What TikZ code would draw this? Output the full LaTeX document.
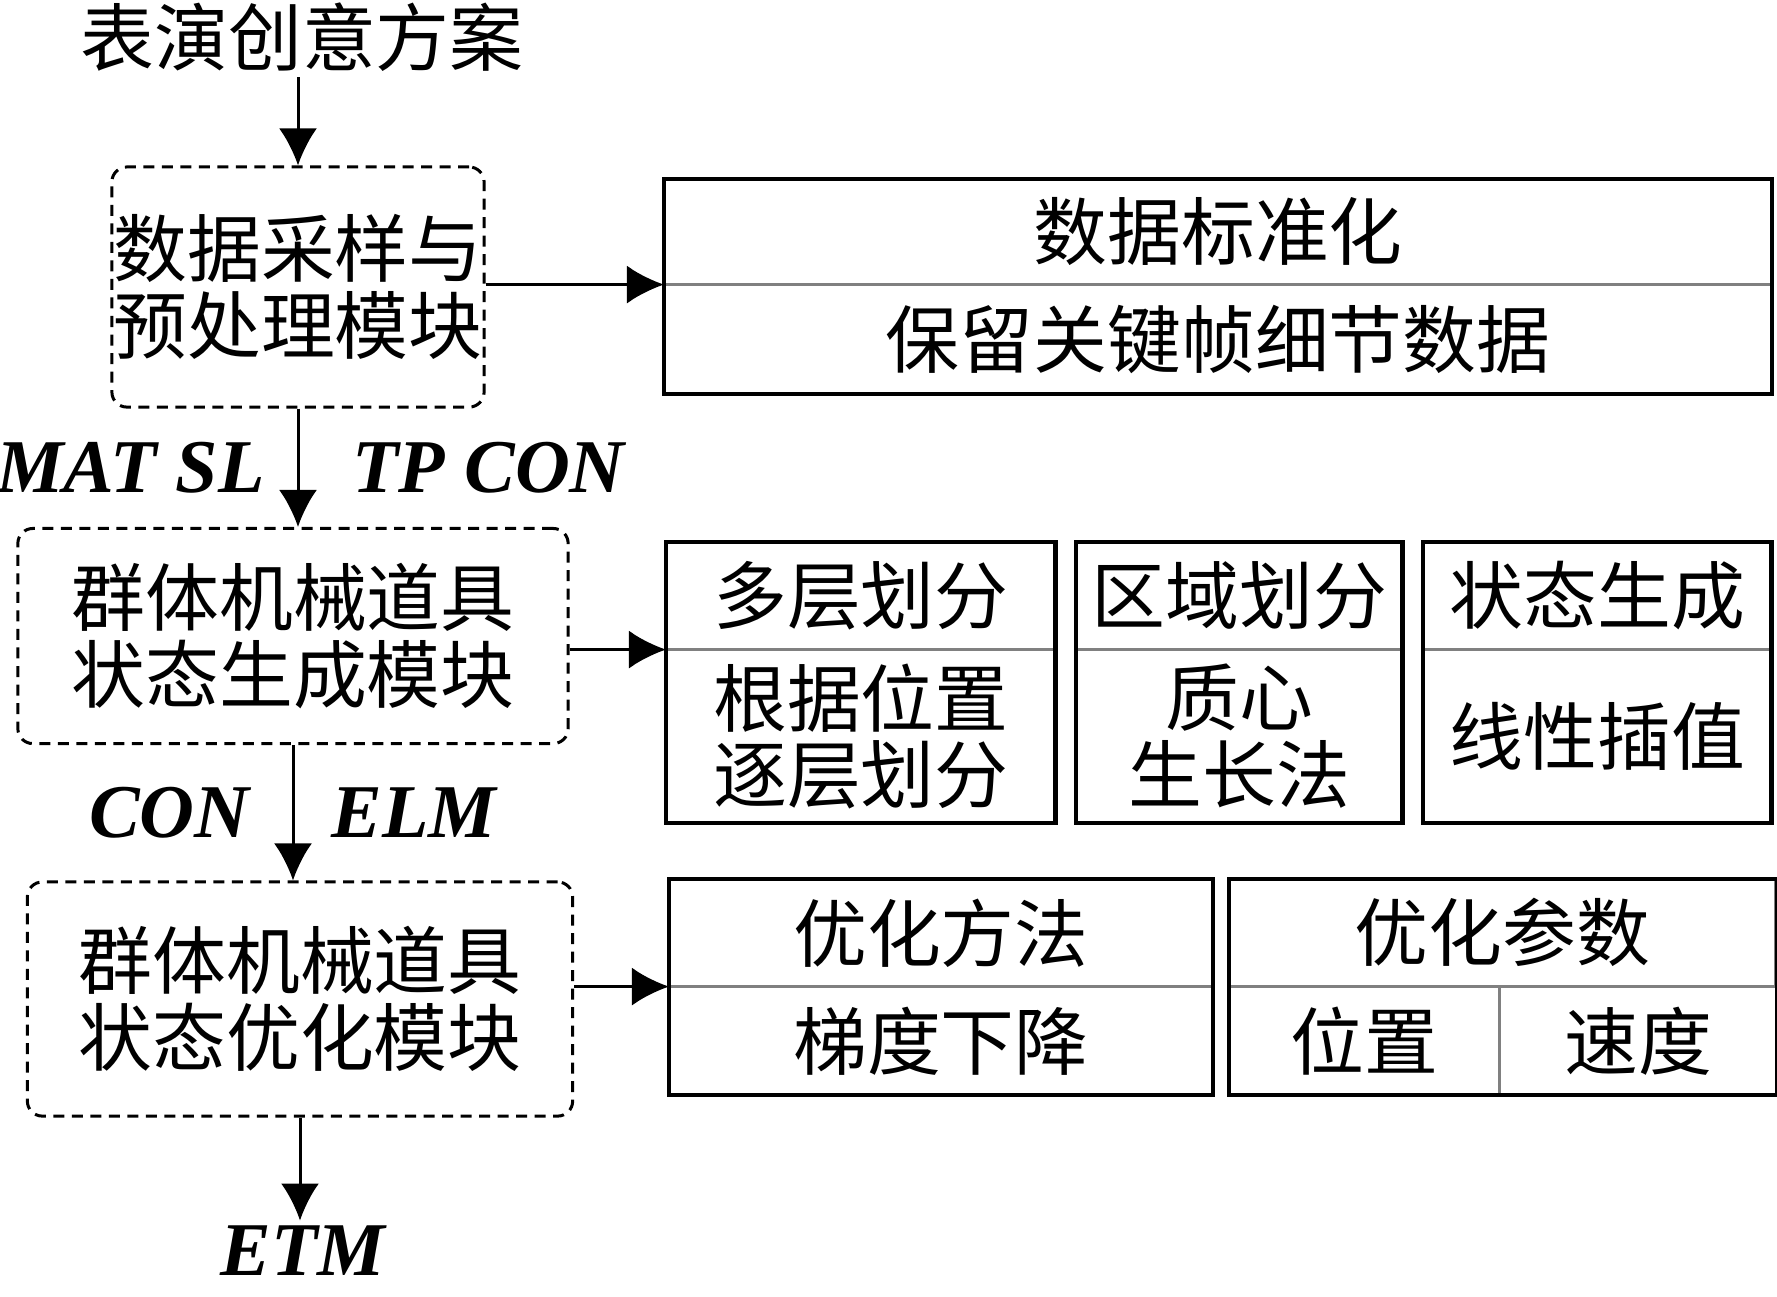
\documentclass[tikz,border=0pt]{standalone}
\usepackage{fontspec}
\setmainfont{Liberation Serif}
\newfontfamily\zhfont{Noto Sans CJK SC}
\usetikzlibrary{arrows.meta,positioning,fit}
\newcommand{\zhtext}{\zhfont\fontsize{21}{21.8}\selectfont}
\newcommand{\lbltext}{\bfseries\itshape\fontsize{21.6}{24}\selectfont}

\begin{document}
\begin{tikzpicture}[x=0.01cm, y=-0.01cm,
    module/.style={draw, dash pattern=on 0.11cm off 0.075cm, line width=0.03cm, rounded corners=0.15cm, align=center, font=\zhtext, inner sep=0},
    cell/.style={draw=gray, line width=0.015cm, anchor=north west, align=center, font=\zhtext, inner sep=0},
    frame/.style={draw, line width=0.045cm, inner sep=0},
    arr/.style={-{Latex[length=0.37cm, width=0.38cm]}, line width=0.03cm},
    lbl/.style={font=\lbltext, inner sep=0}]
  \useasboundingbox (0,0) rectangle (1777,1296);

  % left column
  \node[font=\zhtext, inner sep=0.05cm] (plan) at (302,37) {表演创意方案};
  \node[module, minimum width=3.72cm, minimum height=2.40cm] (m1) at (298,287) {数据采样与\\预处理模块};
  \node[module, minimum width=5.50cm, minimum height=2.15cm] (m2) at (293,636) {群体机械道具\\状态生成模块};
  \node[module, minimum width=5.45cm, minimum height=2.34cm] (m3) at (300,999) {群体机械道具\\状态优化模块};
  \node[lbl, anchor=base, inner sep=0.04cm] (etm) at (303,1275) {ETM};

  % right boxes
  \node[cell, minimum width=11.06cm, minimum height=1.04cm] (s1) at (664,179) {数据标准化};
  \node[cell, minimum width=11.06cm, minimum height=1.08cm] (s2) at (s1.south west) {保留关键帧细节数据};
  \node[frame, fit=(s1)(s2)] (fs) {};

  \node[cell, minimum width=3.88cm, minimum height=1.06cm] (a1) at (666,542) {多层划分};
  \node[cell, minimum width=3.88cm, minimum height=1.72cm] (a2) at (a1.south west) {根据位置\\逐层划分};
  \node[frame, fit=(a1)(a2)] (fa) {};
  \node[cell, minimum width=3.25cm, minimum height=1.06cm] (b1) at (1076,542) {区域划分};
  \node[cell, minimum width=3.25cm, minimum height=1.72cm] (b2) at (b1.south west) {质心\\生长法};
  \node[frame, fit=(b1)(b2)] (fb) {};
  \node[cell, minimum width=3.47cm, minimum height=1.06cm] (c1) at (1423,542) {状态生成};
  \node[cell, minimum width=3.47cm, minimum height=1.72cm] (c2) at (c1.south west) {线性插值};
  \node[frame, fit=(c1)(c2)] (fc) {};

  \node[cell, minimum width=5.42cm, minimum height=1.06cm] (p1) at (669,879) {优化方法};
  \node[cell, minimum width=5.42cm, minimum height=1.07cm] (p2) at (p1.south west) {梯度下降};
  \node[frame, fit=(p1)(p2)] (fp) {};
  \node[cell, minimum width=5.45cm, minimum height=1.06cm] (q1) at (1229,879) {优化参数};
  \node[cell, minimum width=2.69cm, minimum height=1.07cm] (q2) at (q1.south west) {位置};
  \node[cell, minimum width=2.76cm, minimum height=1.07cm] (q3) at (q2.north east) {速度};
  \node[frame, fit=(q1)(q2)(q3)] (fq) {};

  % connectors
  \draw[arr] (m1.north |- plan.south) -- (m1.north);
  \draw[arr] (m1.south) to node[lbl, left=0.32cm] {MAT SL} node[lbl, right=0.53cm] {TP CON} (m1.south |- m2.north);
  \draw[arr] (m2.south) to node[lbl, left=0.42cm] {CON} node[lbl, right=0.37cm] {ELM} (m2.south |- m3.north);
  \draw[arr] (m3.south) -- (m3.south |- etm.north);

  \draw[arr] (m1.east |- s1.south west) -- (s1.south west);
  \draw[arr] (m2.east |- a1.south west) -- (a1.south west);
  \draw[arr] (m3.east |- p1.south west) -- (p1.south west);
\end{tikzpicture}
\end{document}
